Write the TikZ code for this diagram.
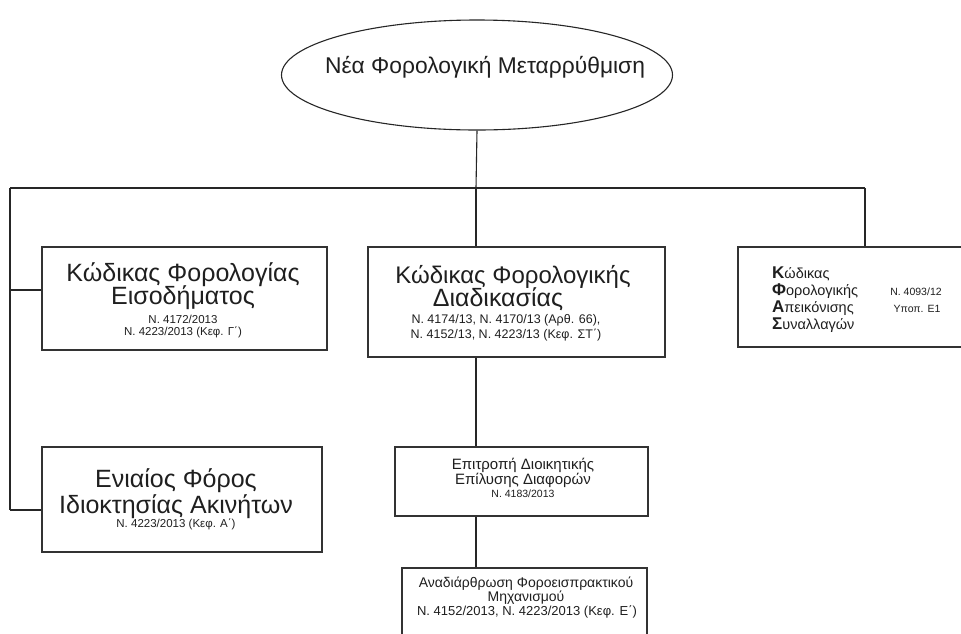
\documentclass[tikz,border=0pt]{standalone}
\usepackage{fontspec}
\setmainfont{Liberation Sans}
\usetikzlibrary{shapes.geometric,calc}

\tikzset{
  link/.style={draw=black!85, line width=1.1pt},
  frame/.style={draw=black!80, line width=1.1pt, rectangle, inner sep=0pt},
  oval/.style={draw=black!85, line width=1.1pt, ellipse, inner sep=0pt},
  txt/.style={text=black!88, inner sep=0pt, anchor=base},
  bigtxt/.style={txt, font=\fontsize{25}{25}\selectfont},
  midtxt/.style={txt, font=\fontsize{15}{15}\selectfont},
  smalltxt/.style={txt, font=\fontsize{11.5}{12}\selectfont},
  tinytxt/.style={txt, font=\fontsize{10.5}{11}\selectfont},
  lowtxt/.style={txt, font=\fontsize{14}{14}\selectfont},
  listtxt/.style={txt, anchor=base west, font=\fontsize{14.5}{14}\selectfont},
}
\newcommand{\capl}[1]{{\bfseries\fontsize{17}{15}\selectfont #1}}

\begin{document}
\begin{tikzpicture}[x=1pt, y=-1pt]
\useasboundingbox (0,0) rectangle (961,633);
\clip (0,0) rectangle (961,633);
\fill[white] (0,0) rectangle (961,633);

% root
\node[oval, minimum width=391pt, minimum height=110pt] (top) at (477,75) {};
\node[txt, font=\fontsize{22.8}{23}\selectfont] (toptxt) at (485,73) {Νέα Φορολογική Μεταρρύθμιση};

% frames
\node[frame, minimum width=285pt, minimum height=103pt] (b1) at (184.5,298.5) {};
\node[frame, minimum width=297pt, minimum height=110pt] (b2) at (516.5,302) {};
\node[frame, minimum width=240pt, minimum height=100pt] (b3) at (858,297) {};
\node[frame, minimum width=280pt, minimum height=105pt] (b4) at (182,499.5) {};
\node[frame, minimum width=253pt, minimum height=69pt] (b5) at (521.5,481.5) {};
\node[frame, minimum width=245pt, minimum height=92pt] (b6) at (524.5,614) {};

% bus
\coordinate (busL) at (10,188);
\coordinate (busR) at (865,188);
\coordinate (s1) at (10,290);
\coordinate (s4) at (10,510);
\coordinate (trunk) at (476,188);

\draw[link] (busL) -- (busR);
\draw[link] (top.south) -- (trunk);
\draw[link] (trunk) -- (trunk |- b2.north);
\draw[link] (busR) -- (busR |- b3.north);
\draw[link] (busL) -- (s4);
\draw[link] (s1) -- (s1 -| b1.west);
\draw[link] (s4) -- (s4 -| b4.west);
\draw[link] (trunk |- b2.south) -- (trunk |- b5.north);
\draw[link] (trunk |- b5.south) -- (trunk |- b6.north);

% box 1
\node[bigtxt] (t1a) at (183,281) {Κώδικας Φορολογίας};
\node[bigtxt] (t1b) at (183,304) {Εισοδήματος};
\node[smalltxt] (t1c) at (183,323) {Ν. 4172/2013};
\node[smalltxt] (t1d) at (183,335) {Ν. 4223/2013 (Κεφ. Γ΄)};

% box 2
\node[bigtxt, font=\fontsize{24}{24}\selectfont] (t2a) at (513,283) {Κώδικας Φορολογικής};
\node[bigtxt] (t2b) at (498,306) {Διαδικασίας};
\node[smalltxt, font=\fontsize{12.5}{12}\selectfont] (t2c) at (506,323) {Ν. 4174/13, Ν. 4170/13 (Αρθ. 66),};
\node[smalltxt, font=\fontsize{12.5}{12}\selectfont] (t2d) at (506,338) {Ν. 4152/13, Ν. 4223/13 (Κεφ. ΣΤ΄)};

% box 3
\node[listtxt] (t3a) at (772,278) {\capl{Κ}ώδικας};
\node[listtxt] (t3b) at (772,295) {\capl{Φ}ορολογικής};
\node[listtxt] (t3c) at (772,312) {\capl{Α}πεικόνισης};
\node[listtxt] (t3d) at (772,329) {\capl{Σ}υναλλαγών};
\node[tinytxt] (t3e) at (916,295) {Ν. 4093/12};
\node[tinytxt] (t3f) at (917,312) {Υποπ. Ε1};

% box 4
\node[bigtxt] (t4a) at (176,487) {Ενιαίος Φόρος};
\node[bigtxt] (t4b) at (176,513) {Ιδιοκτησίας Ακινήτων};
\node[smalltxt] (t4c) at (176,527) {Ν. 4223/2013 (Κεφ. Α΄)};

% box 5
\node[midtxt] (t5a) at (523,469) {Επιτροπή Διοικητικής};
\node[midtxt] (t5b) at (523,484) {Επίλυσης Διαφορών};
\node[tinytxt] (t5c) at (523,497) {Ν. 4183/2013};

% box 6
\node[lowtxt] (t6a) at (526,587) {Αναδιάρθρωση Φοροεισπρακτικού};
\node[lowtxt] (t6b) at (526,601) {Μηχανισμού};
\node[lowtxt, font=\fontsize{13}{13}\selectfont] (t6c) at (527,615) {Ν. 4152/2013, Ν. 4223/2013 (Κεφ. Ε΄)};
\end{tikzpicture}
\end{document}
